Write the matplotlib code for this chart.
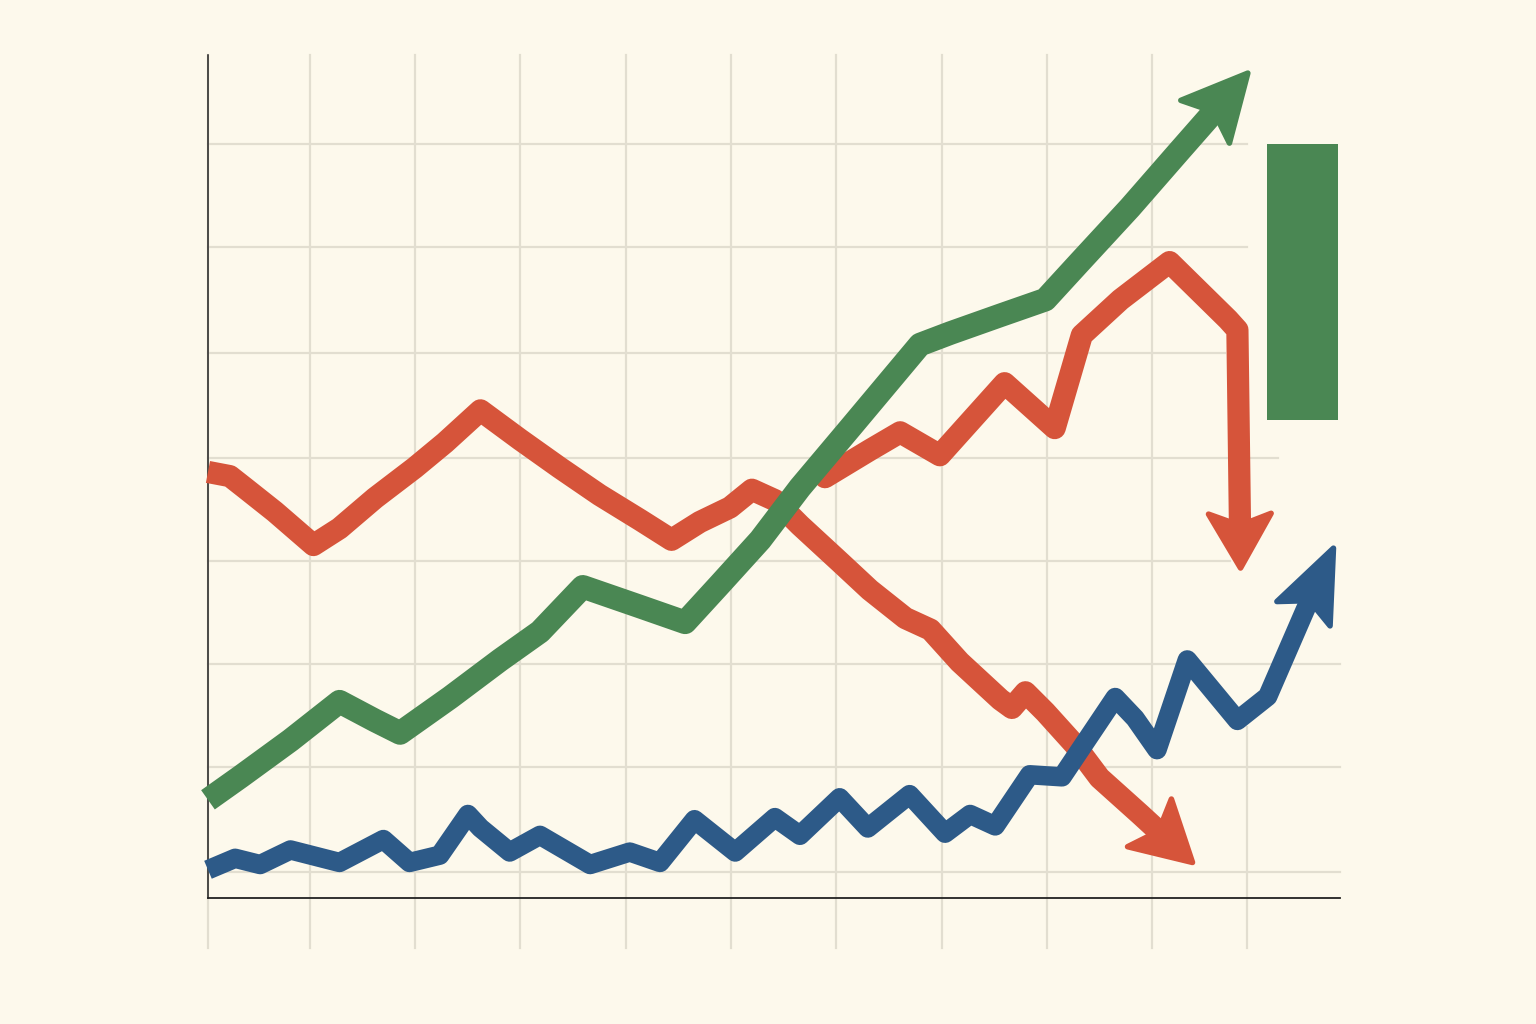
import numpy as np
import matplotlib
matplotlib.use("Agg")
import matplotlib.pyplot as plt
from matplotlib.patches import Polygon

# ---- data (grid units) ----
red_down_x = [0, 0.21, 0.35, 0.64, 1.01, 1.26, 1.60, 1.98, 2.27, 2.61, 2.99, 3.37, 3.75, 4.14, 4.44,
              4.71, 5.00, 5.21, 5.43, 5.67, 6.05, 6.34, 6.68, 6.92, 7.20, 7.59, 7.70, 7.83, 8.02,
              8.30, 8.54, 8.93, 9.43]
red_down_y = [4.08, 4.04, 3.93, 3.70, 3.38, 3.54, 3.83, 4.12, 4.36, 4.67, 4.39, 4.12, 3.86, 3.62, 3.43,
              3.60, 3.74, 3.91, 3.81, 3.57, 3.22, 2.95, 2.68, 2.57, 2.26, 1.90, 1.82, 1.97, 1.78,
              1.47, 1.15, 0.80, 0.34]

red_up_x = [5.81, 5.91, 6.34, 6.63, 7.01, 7.63, 8.11, 8.37, 8.74, 9.21, 9.77, 9.86, 9.89]
red_up_y = [4.15, 4.03, 4.29, 4.46, 4.24, 4.93, 4.50, 5.39, 5.73, 6.09, 5.54, 5.44, 3.16]

green_x = [0, 0.31, 0.79, 1.26, 1.60, 1.84, 2.32, 2.80, 3.18, 3.59, 4.14, 4.57, 4.90, 5.29, 5.67,
           6.15, 6.82, 7.11, 7.59, 8.02, 8.35, 8.83, 9.31, 9.96]
green_y = [0.94, 1.16, 1.51, 1.88, 1.70, 1.58, 1.92, 2.28, 2.55, 2.98, 2.79, 2.64, 3.00, 3.43, 3.93,
           4.50, 5.30, 5.41, 5.58, 5.73, 6.09, 6.61, 7.16, 7.90]

blue_x = [0, 0.26, 0.50, 0.79, 1.26, 1.68, 1.93, 2.22, 2.49, 2.61, 2.89, 3.18, 3.66, 4.04, 4.33,
          4.66, 5.05, 5.43, 5.67, 6.05, 6.32, 6.72, 7.06, 7.30, 7.54, 7.87, 8.18, 8.69, 8.88,
          9.09, 9.38, 9.86, 10.15, 10.51, 10.78]
blue_y = [0.27, 0.38, 0.32, 0.46, 0.34, 0.56, 0.34, 0.41, 0.80, 0.67, 0.44, 0.60, 0.32, 0.44, 0.34,
          0.75, 0.44, 0.77, 0.60, 0.96, 0.67, 0.99, 0.62, 0.80, 0.69, 1.18, 1.16, 1.92, 1.72,
          1.42, 2.28, 1.70, 1.93, 2.76, 3.35]

bar_x = [10.48]
bar_bottom = [4.58]
bar_top = [7.22]

vgrid_x = [0, 0.98, 1.98, 2.99, 4.00, 5.01, 6.02, 7.03, 8.04, 9.04]
hgrid_y = [7.22, 6.23, 5.22, 4.21, 3.23, 2.24, 1.25, 0.25]
hgrid_end = [9.95, 9.95, 9.74, 10.25, 9.79, 10.84, 10.84, 10.84]

# ---- style ----
BG = "#fdf9ec"
GRID = "#e2ded0"
RED = "#d6543a"
GREEN = "#4a8753"
BLUE = "#2d5a88"

fig = plt.figure(figsize=(15.36, 10.24), dpi=100, facecolor=BG)
ax = fig.add_axes([0, 0, 1, 1])
ax.set_facecolor(BG)
ax.set_xlim(-1.992, 12.72)
ax.set_ylim(-1.207, 8.60)
ax.axis("off")

# grid
for gx in vgrid_x:
    ax.plot([gx, gx], [-0.48, 8.07], color=GRID, lw=1.6, zorder=1)
ax.plot([9.95, 9.95], [-0.48, 1.64], color=GRID, lw=1.6, zorder=1)
for gy, ge in zip(hgrid_y, hgrid_end):
    ax.plot([0, ge], [gy, gy], color=GRID, lw=1.6, zorder=1)

# axes lines
ax.plot([0, 0], [0, 8.07], color="#222222", lw=1.1, zorder=2)
ax.plot([0, 10.84], [0, 0], color="#222222", lw=1.3, zorder=2)


def arrow_line(xs, ys, color, lw, L, W, z):
    xs = np.asarray(xs, float)
    ys = np.asarray(ys, float)
    tip = np.array([xs[-1], ys[-1]])
    prev = np.array([xs[-2], ys[-2]])
    d = tip - prev
    d = d / np.hypot(*d)
    n = np.array([-d[1], d[0]])
    base = tip - L * d
    px = list(xs[:-1]) + [base[0] + 0.08 * d[0]]
    py = list(ys[:-1]) + [base[1] + 0.08 * d[1]]
    ax.plot(px, py, color=color, lw=lw, solid_joinstyle="round",
            solid_capstyle="butt", zorder=z)
    head = np.array([base + W / 2 * n - 0.04 * d, tip, base - W / 2 * n - 0.04 * d,
                     base + 0.15 * L * d])
    ax.add_patch(Polygon(head, closed=True, facecolor=color, edgecolor=color,
                         lw=4, joinstyle="round", zorder=z))


arrow_line(red_down_x, red_down_y, RED, 16, 0.52, 0.62, 3)
arrow_line(red_up_x, red_up_y, RED, 16, 0.48, 0.60, 3)
arrow_line(green_x, green_y, GREEN, 17, 0.58, 0.62, 5)
arrow_line(blue_x, blue_y, BLUE, 14, 0.65, 0.56, 4)

# green bar
ax.bar(bar_x, np.array(bar_top) - np.array(bar_bottom), bottom=bar_bottom, width=0.68,
       color=GREEN, zorder=3)

fig.savefig("out.png", dpi=100, facecolor=BG)
